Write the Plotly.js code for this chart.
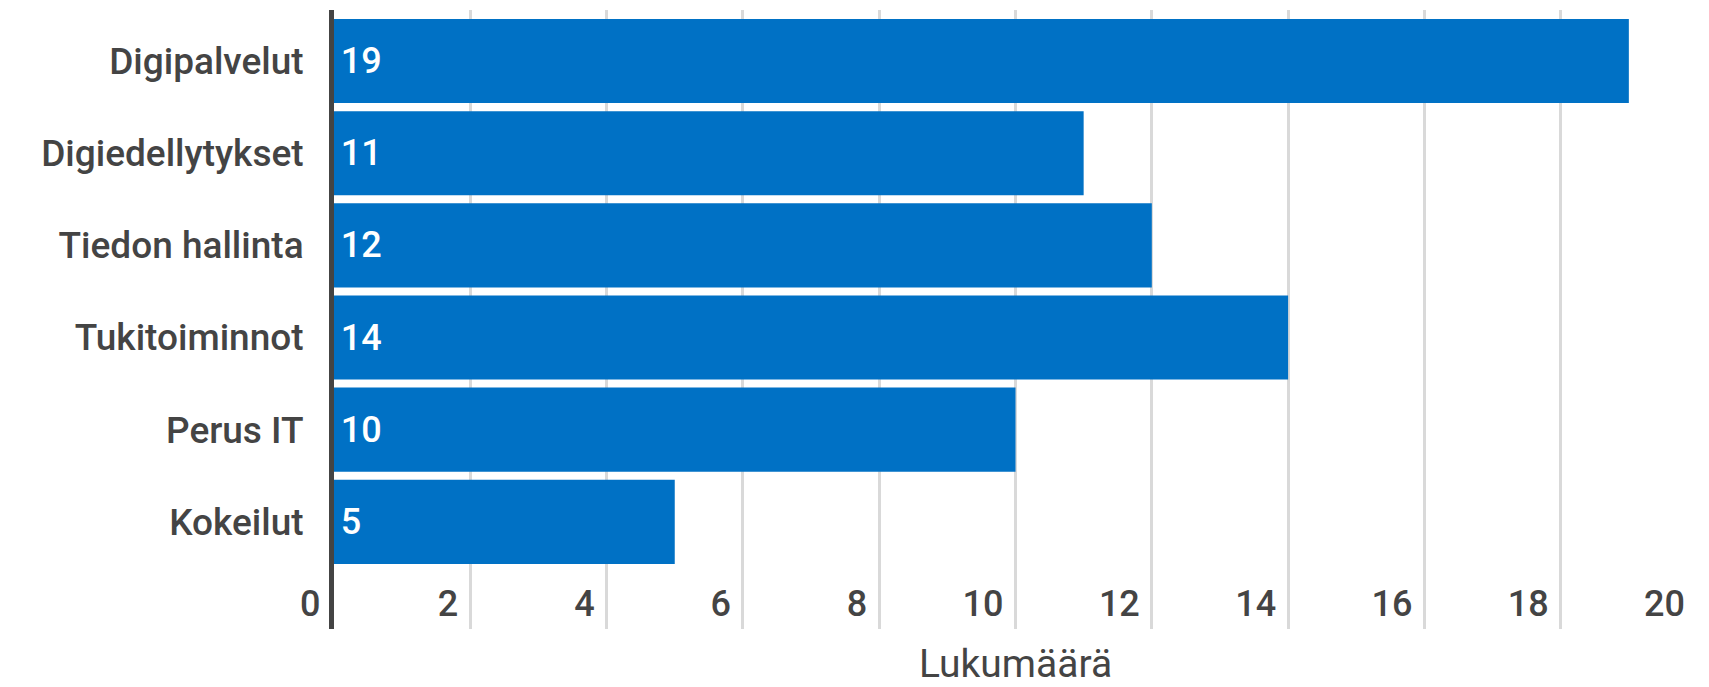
<!DOCTYPE html>
<html>
<head>
<meta charset="utf-8">
<script src="https://cdn.plot.ly/plotly-3.0.1.min.js"></script>
<style>
  html, body { margin: 0; padding: 0; background: #ffffff; }
  #chart { width: 1709px; height: 687px; }
</style>
</head>
<body>
<div id="chart"></div>
<script>
const categories = ['Digipalvelut', 'Digiedellytykset', 'Tiedon hallinta', 'Tukitoiminnot', 'Perus IT', 'Kokeilut'];
const values = [19, 11, 12, 14, 10, 5];
const xTickVals = [0, 2, 4, 6, 8, 10, 12, 14, 16, 18, 20];
const xTitle = 'Lukumäärä';

const trace = {
  type: 'bar',
  orientation: 'h',
  y: categories,
  x: values,
  text: values.map(v => '\u200A' + v),
  textposition: 'inside',
  insidetextanchor: 'start',
  textfont: { family: 'Roboto', size: 36, color: '#ffffff', weight: 500 },
  marker: { color: '#0071c5' },
  hoverinfo: 'none',
  cliponaxis: false
};

const layout = {
  width: 1709,
  height: 687,
  margin: { l: 334, r: 12, t: 10, b: 58 },
  paper_bgcolor: '#ffffff',
  plot_bgcolor: '#ffffff',
  showlegend: false,
  bargap: 0.087,
  font: { family: 'Roboto', color: '#444444' },
  xaxis: {
    range: [0, 20],
    tickvals: xTickVals,
    ticktext: xTickVals.map(String),
    ticklabelposition: 'inside left',
    ticks: '',
    ticklabelstandoff: 0,
    ticklabelshift: -12,
    tickfont: { family: 'Roboto', size: 36, color: '#444444', weight: 500 },
    showgrid: true,
    gridcolor: '#d9d9d9',
    gridwidth: 3,
    zeroline: false,
    showline: false,
    title: { text: xTitle, font: { family: 'Roboto', size: 39, color: '#444444' }, standoff: 29 }
  },
  yaxis: {
    type: 'category',
    categoryorder: 'array',
    categoryarray: categories,
    range: [6.163, -0.554],
    ticks: '',
    showgrid: false,
    zeroline: false,
    showline: true,
    linecolor: '#444444',
    linewidth: 5,
    ticklabelstandoff: 18,
    tickfont: { family: 'Roboto', size: 37, color: '#444444', weight: 500 }
  },
  annotations: [{
    x: xTickVals[0],
    xref: 'x',
    y: 0,
    yref: 'paper',
    text: String(xTickVals[0]),
    showarrow: false,
    xanchor: 'right',
    yanchor: 'bottom',
    xshift: -12,
    yshift: 2,
    font: { family: 'Roboto', size: 36, color: '#444444', weight: 500 }
  }]
};

Plotly.newPlot('chart', [trace], layout, { staticPlot: true, displayModeBar: false });
</script>
</body>
</html>
